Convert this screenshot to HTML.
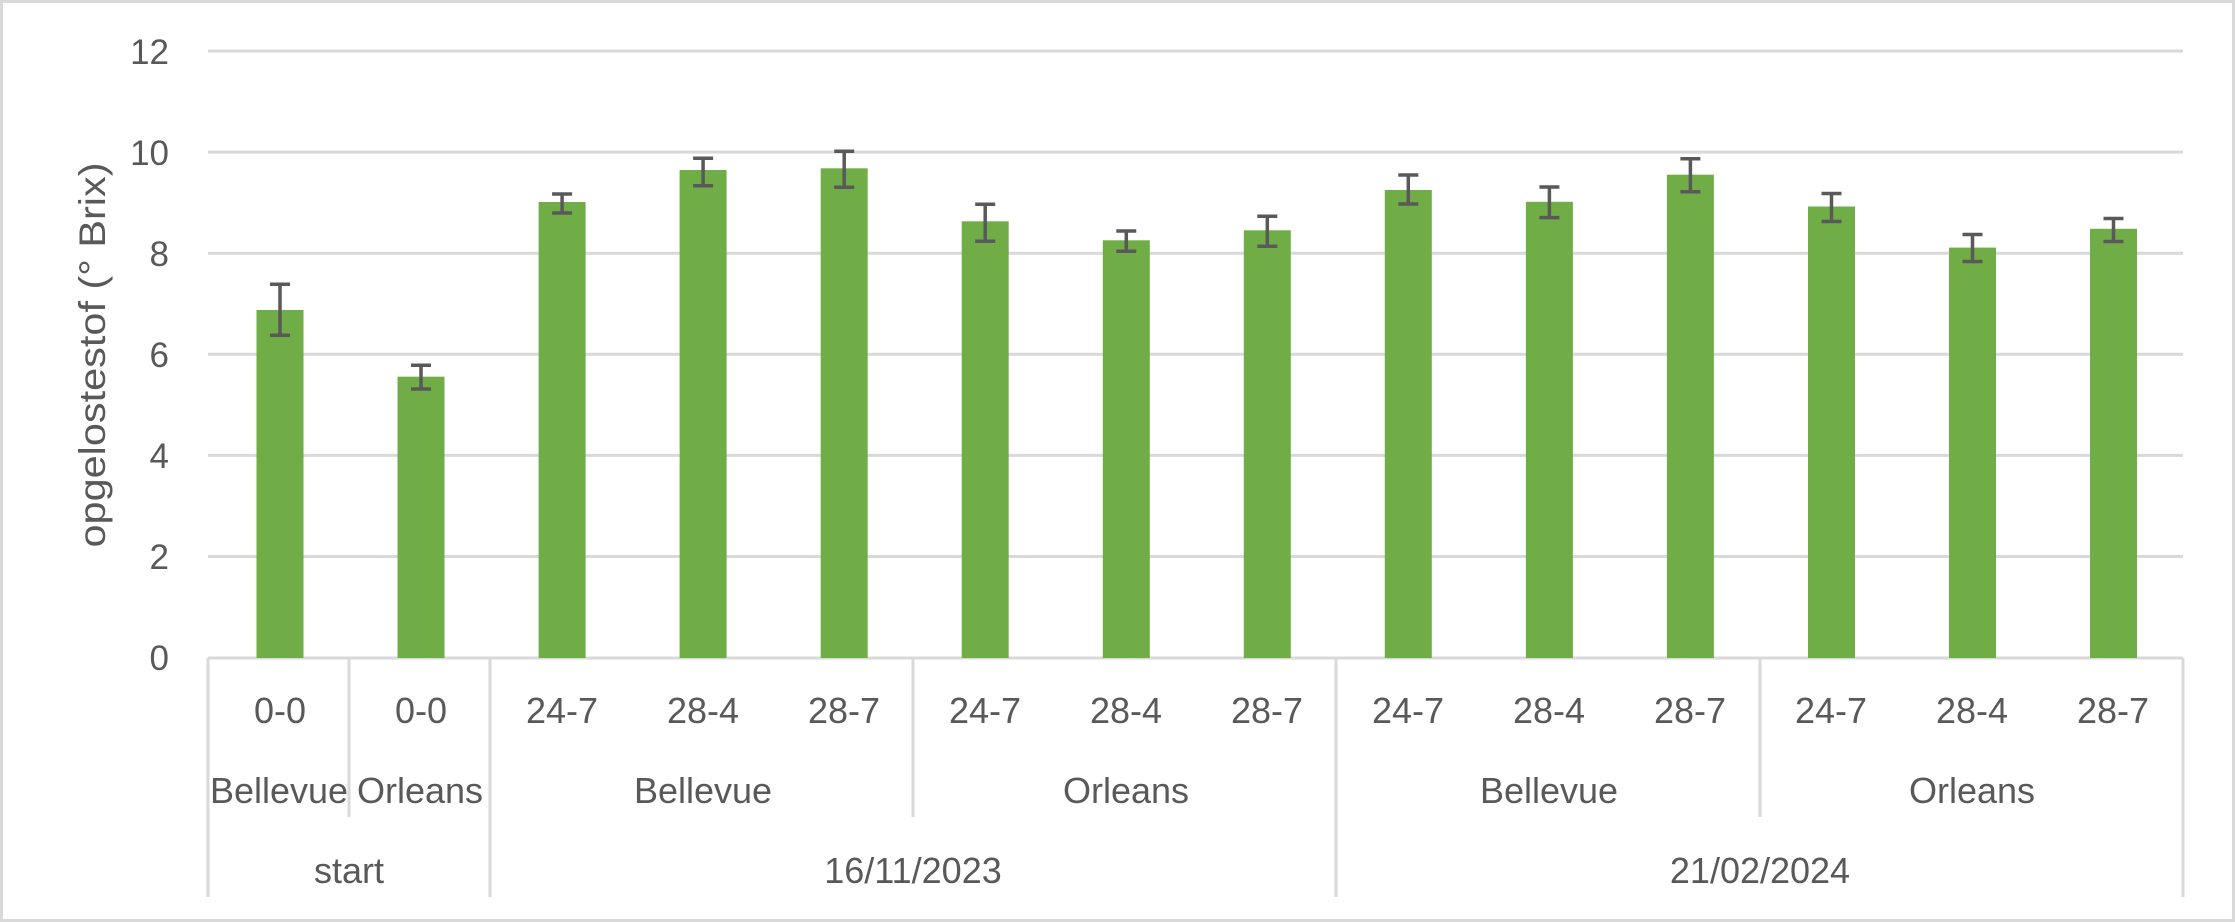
<!DOCTYPE html>
<html><head><meta charset="utf-8"><style>
html,body{margin:0;padding:0;background:#fff;}
svg{display:block;}
text{font-family:"Liberation Sans",sans-serif;fill:#595959;}
</style></head><body>
<svg width="2235" height="922" viewBox="0 0 2235 922" xmlns="http://www.w3.org/2000/svg">
<rect x="1.5" y="1.5" width="2232" height="919" fill="#fff" stroke="#d9d9d9" stroke-width="3"/>
<g stroke="#d9d9d9" stroke-width="3">
<line x1="208" y1="51" x2="2183" y2="51"/>
<line x1="208" y1="152.1" x2="2183" y2="152.1"/>
<line x1="208" y1="253.2" x2="2183" y2="253.2"/>
<line x1="208" y1="354.3" x2="2183" y2="354.3"/>
<line x1="208" y1="455.4" x2="2183" y2="455.4"/>
<line x1="208" y1="556.5" x2="2183" y2="556.5"/>
<line x1="208" y1="658" x2="2183" y2="658"/>
<line x1="208" y1="658" x2="208" y2="897"/>
<line x1="490" y1="658" x2="490" y2="897"/>
<line x1="1336" y1="658" x2="1336" y2="897"/>
<line x1="2183" y1="658" x2="2183" y2="897"/>
<line x1="349" y1="658" x2="349" y2="817"/>
<line x1="913" y1="658" x2="913" y2="817"/>
<line x1="1760" y1="658" x2="1760" y2="817"/>
</g>
<g font-size="35" text-anchor="end">
<text x="169" y="64">12</text>
<text x="169" y="165">10</text>
<text x="169" y="266">8</text>
<text x="169" y="367">6</text>
<text x="169" y="468">4</text>
<text x="169" y="569">2</text>
<text x="169" y="670">0</text>
</g>
<text transform="translate(105,355) rotate(-90)" font-size="37" text-anchor="middle" textLength="385" lengthAdjust="spacingAndGlyphs">opgelostestof (° Brix)</text>
<g fill="#70ad47">
<rect x="256.5" y="310" width="47" height="348"/>
<rect x="397.5" y="376.7" width="47" height="281.3"/>
<rect x="538.6" y="202" width="47" height="456"/>
<rect x="679.6" y="170" width="47" height="488"/>
<rect x="820.7" y="168.3" width="47" height="489.7"/>
<rect x="961.7" y="221.3" width="47" height="436.7"/>
<rect x="1102.8" y="240.3" width="47" height="417.7"/>
<rect x="1243.8" y="230.3" width="47" height="427.7"/>
<rect x="1384.8" y="190" width="47" height="468"/>
<rect x="1525.9" y="201.8" width="47" height="456.2"/>
<rect x="1666.9" y="174.7" width="47" height="483.3"/>
<rect x="1808" y="206.5" width="47" height="451.5"/>
<rect x="1949" y="247.6" width="47" height="410.4"/>
<rect x="2090" y="228.8" width="47" height="429.2"/>
</g>
<g stroke="#595959" stroke-width="3.5" fill="none">
<path d="M280 284.3V335.3M270 284.3H290M270 335.3H290"/>
<path d="M421 365.3V389M411 365.3H431M411 389H431"/>
<path d="M562.1 194V213M552.1 194H572.1M552.1 213H572.1"/>
<path d="M703.1 158.3V185.7M693.1 158.3H713.1M693.1 185.7H713.1"/>
<path d="M844.2 151.3V187.3M834.2 151.3H854.2M834.2 187.3H854.2"/>
<path d="M985.2 204.3V241.3M975.2 204.3H995.2M975.2 241.3H995.2"/>
<path d="M1126.3 231V251.3M1116.3 231H1136.3M1116.3 251.3H1136.3"/>
<path d="M1267.3 216.3V246.3M1257.3 216.3H1277.3M1257.3 246.3H1277.3"/>
<path d="M1408.3 175V204M1398.3 175H1418.3M1398.3 204H1418.3"/>
<path d="M1549.4 187V217.6M1539.4 187H1559.4M1539.4 217.6H1559.4"/>
<path d="M1690.4 158.8V191.8M1680.4 158.8H1700.4M1680.4 191.8H1700.4"/>
<path d="M1831.5 193.5V221.5M1821.5 193.5H1841.5M1821.5 221.5H1841.5"/>
<path d="M1972.5 234.5V261.5M1962.5 234.5H1982.5M1962.5 261.5H1982.5"/>
<path d="M2113.5 218.5V241.5M2103.5 218.5H2123.5M2103.5 241.5H2123.5"/>
</g>
<g font-size="36" text-anchor="middle">
<text x="280" y="723">0-0</text>
<text x="421" y="723">0-0</text>
<text x="562" y="723">24-7</text>
<text x="703" y="723">28-4</text>
<text x="844" y="723">28-7</text>
<text x="985" y="723">24-7</text>
<text x="1126" y="723">28-4</text>
<text x="1267" y="723">28-7</text>
<text x="1408" y="723">24-7</text>
<text x="1549" y="723">28-4</text>
<text x="1690" y="723">28-7</text>
<text x="1831" y="723">24-7</text>
<text x="1972" y="723">28-4</text>
<text x="2113" y="723">28-7</text>
<text x="279" y="803" textLength="138" lengthAdjust="spacingAndGlyphs">Bellevue</text>
<text x="420" y="803">Orleans</text>
<text x="703" y="803">Bellevue</text>
<text x="1126" y="803">Orleans</text>
<text x="1549" y="803">Bellevue</text>
<text x="1972" y="803">Orleans</text>
<text x="349" y="883">start</text>
<text x="913" y="883">16/11/2023</text>
<text x="1760" y="883">21/02/2024</text>
</g>
</svg>
</body></html>
